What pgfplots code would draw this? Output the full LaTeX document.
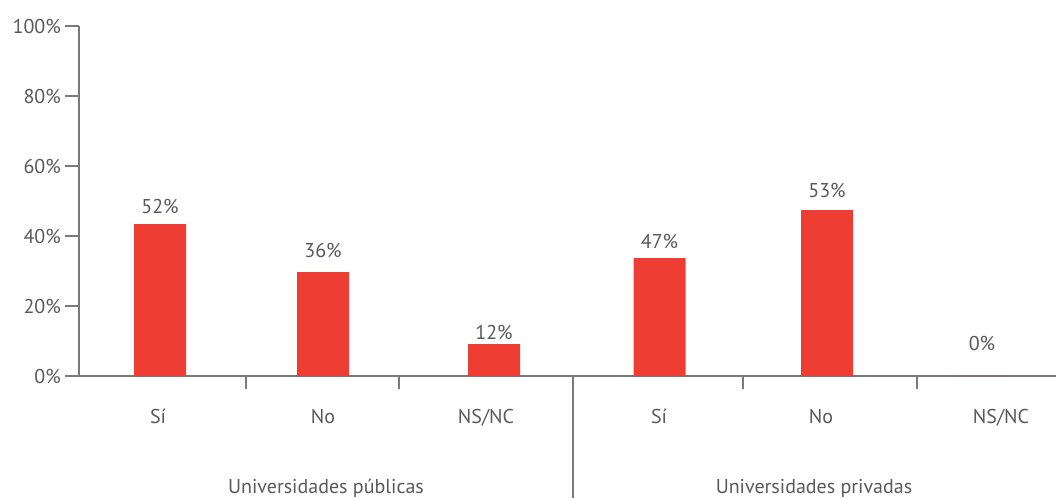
\documentclass[border=0pt]{standalone}
\usepackage{pgfplots}
\pgfplotsset{compat=1.18}
\usepackage{fontspec}
\setmainfont{PT Sans}
\definecolor{barred}{HTML}{EE3E34}
\definecolor{txt}{HTML}{595959}
\definecolor{axg}{HTML}{7A7A7A}
\newcommand{\lblfont}{\fontsize{20}{23}\selectfont}
\begin{document}
\begin{tikzpicture}
\begin{axis}[
  scale only axis, width=977pt, height=350pt,
  xmin=79, xmax=1056, ymin=0, ymax=100,
  axis x line=bottom, axis y line=left,
  axis line style={axg, line width=1.2pt, -},
  clip=false,
  tick align=outside,
  /pgf/number format/assume math mode=true,
  ytick={0,20,40,60,80,100},
  yticklabel={\pgfmathprintnumber{\tick}\%},
  yticklabel style={font=\lblfont, text=txt, inner sep=0pt, xshift=-4pt},
  ytick style={axg, line width=1.2pt},
  major tick length=14pt,
  xtick={158,323,486,659,821,1001},
  xticklabels={Sí,No,NS/NC,Sí,No,NS/NC},
  major x tick style={draw=none},
  minor xtick={246,399,743,917},
  minor tick length=13pt,
  minor x tick style={axg, line width=1.2pt},
  xticklabel style={font=\lblfont, text=txt, anchor=base, inner sep=0pt, yshift=-33pt},
]
\addplot[ybar, bar width=52, fill=barred, draw=none,
  point meta=explicit symbolic,
  visualization depends on={\thisrow{dy} \as \dy},
  nodes near coords={\pgfplotspointmeta\%},
  nodes near coords style={font=\lblfont, text=txt, anchor=base, inner sep=0pt, yshift=\dy pt}]
  table[x=x, y=y, meta=lab] {
x y lab dy
160 43.4 52 11
323 29.7 36 15
494 9.1 12 5
659.5 33.7 47 10
827 47.4 53 13
982 0 0 26
};
\draw[axg, line width=1.2pt] (axis cs:573,0) -- (axis cs:573,-34.857);
\node[font=\lblfont, text=txt, anchor=base] at (axis cs:326,-33.7) {Universidades públicas};
\node[font=\lblfont, text=txt, anchor=base] at (axis cs:814,-33.7) {Universidades privadas};
\coordinate (bl) at (axis cs:0,-34.857);
\coordinate (tr) at (axis cs:1056,107.43);
\end{axis}
\pgfresetboundingbox
\path[use as bounding box] (bl) rectangle (tr);
\end{tikzpicture}
\end{document}
